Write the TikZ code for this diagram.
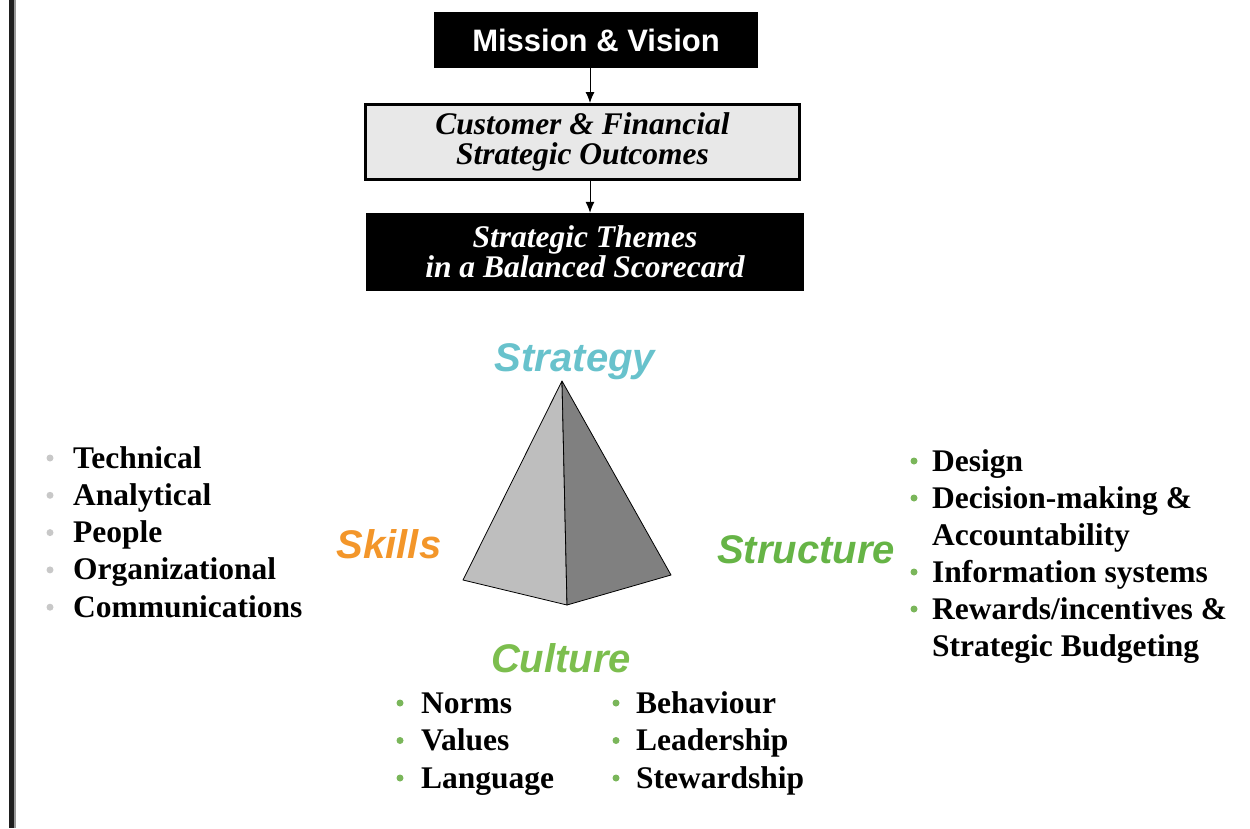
\documentclass[tikz,border=0pt]{standalone}
\usepackage{fontspec}
\setmainfont{Liberation Serif}
\setsansfont{Liberation Sans}
\usetikzlibrary{arrows.meta}
\definecolor{strategycyan}{RGB}{104,194,204}
\definecolor{skillorange}{RGB}{243,150,42}
\definecolor{structgreen}{RGB}{102,180,70}
\definecolor{culturegreen}{RGB}{124,190,78}
\definecolor{bulletgreen}{RGB}{122,182,90}
\definecolor{bulletgrey}{RGB}{200,200,200}
\definecolor{boxgrey}{RGB}{232,232,232}
\definecolor{facelight}{RGB}{190,190,190}
\definecolor{facedark}{RGB}{128,128,128}

\begin{document}
\begin{tikzpicture}[x=1pt,y=-1pt,>={Latex[length=11pt,width=9pt]}]
    \tikzstyle{darkbox}=[rectangle,fill=black,text=white,inner sep=0pt,align=center]
    \tikzstyle{greybox}=[rectangle,fill=boxgrey,draw=black,line width=3pt,inner sep=0pt,align=center]
    \tikzstyle{boxtext}=[font=\bfseries\itshape\fontsize{31.5}{30}\selectfont]
    \tikzstyle{facet}=[font=\sffamily\bfseries\itshape\fontsize{40}{40}\selectfont,anchor=base,inner sep=0pt]
    \tikzstyle{item}=[font=\bfseries\fontsize{31.5}{30}\selectfont,anchor=base west,inner sep=0pt]
    \tikzstyle{dot}=[circle,inner sep=0pt,minimum size=7pt]

    \useasboundingbox (0,0) rectangle (1250,828);
    \fill[black!88] (9,0) rectangle (14,828);
    \fill[black!40] (14,0) rectangle (16,828);

    % top chain
    \node[darkbox,minimum width=324pt,minimum height=56pt,font=\sffamily\bfseries\fontsize{31}{31}\selectfont] (mission) at (596,40) {Mission \& Vision};
    \node[greybox,boxtext,minimum width=434pt,minimum height=75pt] (outcomes) at (582.5,142) {Customer \& Financial\\Strategic Outcomes};
    \node[darkbox,boxtext,minimum width=438pt,minimum height=78pt] (themes) at (585,252) {Strategic Themes\\in a Balanced Scorecard};

    \coordinate (spine) at (590,0);
    \draw[->,line width=1pt] (mission.south -| spine) -- (outcomes.north -| spine);
    \draw[->,line width=1pt] (outcomes.south -| spine) -- (themes.north -| spine);

    % pyramid
    \coordinate (apex) at (562,381);
    \coordinate (leftbase) at (463,580);
    \coordinate (front) at (567,605);
    \coordinate (rightbase) at (671,575);
    \filldraw[fill=facelight,draw=black,line width=0.8pt,line join=round] (apex) -- (leftbase) -- (front) -- cycle;
    \filldraw[fill=facedark,draw=black,line width=0.8pt,line join=round] (apex) -- (front) -- (rightbase) -- cycle;

    \node[facet,text=strategycyan] (strategy) at (575,371) {Strategy};
    \node[facet,text=skillorange] (skills) at (389,558) {Skills};
    \node[facet,text=structgreen] (structure) at (806,563) {Structure};
    \node[facet,text=culturegreen] (culture) at (561,672) {Culture};

    % skills list
    \foreach \i/\word in {0/Technical, 1/Analytical, 2/People, 3/Organizational, 4/Communications} {
        \node[dot,fill=bulletgrey] (skill-dot-\i) at (50,{458+37.3*\i}) {};
        \node[item] (skill-\i) at (73,{468+37.3*\i}) {\word};
    }

    % structure list
    \foreach \i/\word in {0/Design, 1/{Decision-making \&}, 2/Accountability, 3/{Information systems}, 4/{Rewards/incentives \&}, 5/{Strategic Budgeting}}
        \node[item] (struct-\i) at (932,{471+37*\i}) {\word};
    \foreach \i in {0,1,3,4}
        \node[dot,fill=bulletgreen] (struct-dot-\i) at (914,{461+37*\i}) {};

    % culture lists
    \foreach \i/\word in {0/Norms, 1/Values, 2/Language} {
        \node[dot,fill=bulletgreen] (norm-dot-\i) at (400,{703+37.5*\i}) {};
        \node[item] (norm-\i) at (421,{713+37.5*\i}) {\word};
    }
    \foreach \i/\word in {0/Behaviour, 1/Leadership, 2/Stewardship} {
        \node[dot,fill=bulletgreen] (lead-dot-\i) at (616,{703+37.5*\i}) {};
        \node[item] (lead-\i) at (636,{713+37.5*\i}) {\word};
    }
\end{tikzpicture}
\end{document}
